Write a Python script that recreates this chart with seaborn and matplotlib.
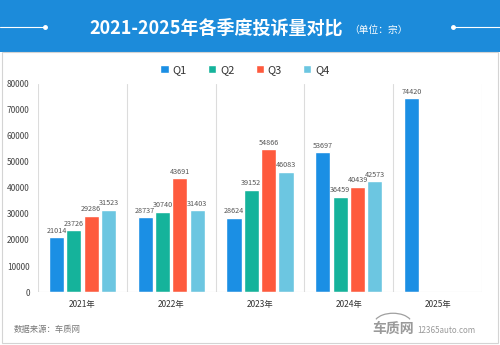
import matplotlib
matplotlib.use("Agg")
import matplotlib.pyplot as plt
from matplotlib.patches import Rectangle, Arc
from matplotlib.lines import Line2D
import seaborn as sns
import pandas as pd

# Quarterly complaint counts by year (2025 only has Q1 so far)
years = ["2021年", "2022年", "2023年", "2024年", "2025年"]
quarters = ["Q1", "Q2", "Q3", "Q4"]
q1 = [21014, 28737, 28624, 53697, 74420]
q2 = [23726, 30740, 39152, 36459]
q3 = [29286, 43691, 54866, 40439]
q4 = [31523, 31403, 46083, 42573]
y_ticks = [0, 10000, 20000, 30000, 40000, 50000, 60000, 70000, 80000]

colors = ["#1B8FE4", "#15B39B", "#FE5A3D", "#6CC6E1"]
header_blue = "#1C8BDA"

rows = []
for q, vals in zip(quarters, [q1, q2, q3, q4]):
    for y, v in zip(years, vals):
        rows.append({"年份": y, "季度": q, "投诉量": v})
df = pd.DataFrame(rows)

sns.set_theme(style="white")
plt.rcParams["font.family"] = ["Noto Sans CJK SC", "DejaVu Sans"]

fig = plt.figure(figsize=(5.0, 3.45), dpi=100)
fig.patch.set_facecolor("white")

# header band with title
fig.patches.append(Rectangle((0, 0.849), 1, 0.151, transform=fig.transFigure,
                             facecolor=header_blue, edgecolor="none", zorder=0))
# panel border below header
fig.patches.append(Rectangle((0.003, 0.005), 0.993, 0.844, transform=fig.transFigure,
                             facecolor="none", edgecolor="#d4d4d4", lw=0.8, zorder=0))
fig.text(0.432, 0.918, "2021-2025年各季度投诉量对比", color="white",
         fontsize=13, fontweight="bold", ha="center", va="center")
fig.text(0.758, 0.914, "（单位：宗）", color="white", fontsize=7,
         ha="center", va="center")
for x0, x1, xd in [(0.0, 0.09, 0.09), (0.906, 1.0, 0.906)]:
    fig.lines.append(Line2D([x0, x1], [0.921, 0.921], transform=fig.transFigure,
                            color="white", lw=0.8))
    fig.lines.append(Line2D([xd], [0.921], transform=fig.transFigure, color="white",
                            marker="o", markersize=2.5, lw=0))

ax = fig.add_axes([0.076, 0.1536, 0.888, 0.603])
sns.barplot(data=df, x="年份", y="投诉量", hue="季度", order=years,
            hue_order=quarters, palette=colors, width=0.78, gap=0.13,
            saturation=1, errorbar=None, ax=ax, zorder=3)

for c in ax.containers:
    ax.bar_label(c, fmt="%d", padding=2, fontsize=5.2, color="#555555")

ax.set_xlim(-0.5, len(years) - 0.5)
ax.set_ylim(0, 80000)
ax.set_yticks(y_ticks)
ax.set_yticklabels([str(t) for t in y_ticks], fontsize=6, color="#444444")
ax.tick_params(axis="x", labelsize=6, colors="#333333", length=0, pad=6)
ax.tick_params(axis="y", length=0, pad=6)
ax.set_xlabel("")
ax.set_ylabel("")
for s in ax.spines.values():
    s.set_visible(False)
for k in range(len(years) + 1):
    ax.axvline(k - 0.5, color="#dcdcdc", lw=0.8, zorder=1)
ax.axhline(0, color="#cccccc", lw=0.8, zorder=4)

handles, labels = ax.get_legend_handles_labels()
ax.get_legend().remove()
fig.legend(handles, labels, loc="center", bbox_to_anchor=(0.49, 0.797), ncol=4,
           frameon=False, fontsize=8, handlelength=0.75, handleheight=0.75,
           handletextpad=0.35, columnspacing=1.9, labelcolor="#333333")

fig.text(0.028, 0.044, "数据来源：车质网", fontsize=6, color="#777777",
         ha="left", va="center")
# site logo: car outline over the wordmark
fig.patches.append(Arc((0.786, 0.062), 0.075, 0.06, theta1=20, theta2=160,
                       transform=fig.transFigure, color="#a0a0a0", lw=0.9))
fig.text(0.745, 0.046, "车质网", fontsize=10, fontweight="bold", color="#9a9a9a",
         ha="left", va="center")
fig.text(0.835, 0.042, "12365auto.com", fontsize=5.8, color="#9a9a9a",
         ha="left", va="center")

fig.savefig("out.png", dpi=100, facecolor="white")
